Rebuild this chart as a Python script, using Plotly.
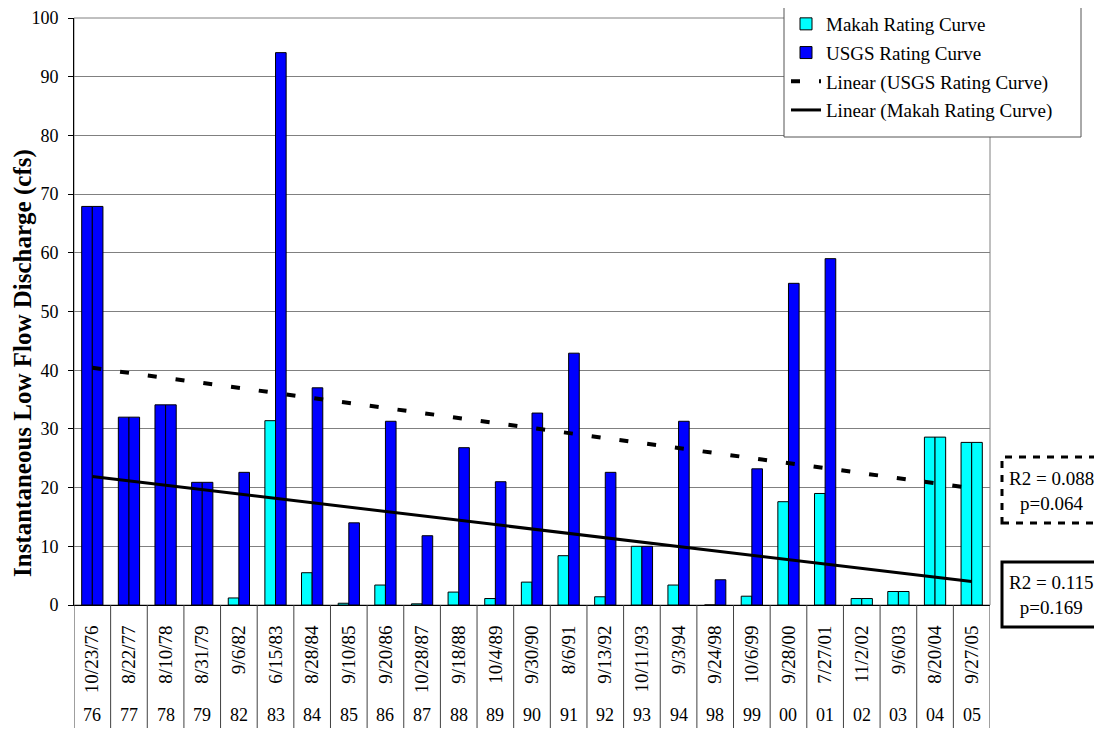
import plotly.graph_objects as go

dates = ["10/23/76", "8/22/77", "8/10/78", "8/31/79", "9/6/82", "6/15/83", "8/28/84",
         "9/10/85", "9/20/86", "10/28/87", "9/18/88", "10/4/89", "9/30/90", "8/6/91",
         "9/13/92", "10/11/93", "9/3/94", "9/24/98", "10/6/99", "9/28/00", "7/27/01",
         "11/2/02", "9/6/03", "8/20/04", "9/27/05"]
years = ["76", "77", "78", "79", "82", "83", "84", "85", "86", "87", "88", "89", "90",
         "91", "92", "93", "94", "98", "99", "00", "01", "02", "03", "04", "05"]
makah = [67.9, 32.0, 34.1, 20.9, 1.2, 31.4, 5.5, 0.3, 3.4, 0.2, 2.2, 1.1, 3.9, 8.4,
         1.4, 10.0, 3.4, None, 1.5, 17.6, 19.0, 1.1, 2.3, 28.6, 27.7]
usgs = [67.9, 32.0, 34.1, 20.9, 22.6, 94.1, 37.0, 14.0, 31.3, 11.8, 26.8, 21.0, 32.7,
        42.9, 22.6, 10.0, 31.3, 4.3, 23.2, 54.8, 59.0, 1.1, 2.3, 28.6, 27.7]
usgs_only_years = ["76", "77", "78", "79"]
makah_only_years = ["02", "03", "04", "05"]
usgs_trend = [40.4, 19.9]
makah_trend = [21.9, 4.0]
stats_usgs = "R2 = 0.088<br>p=0.064"
stats_makah = "R2 = 0.115<br>p=0.169"

CYAN = "#00FFFF"
BLUE = "#0000FF"
FONT = "Liberation Serif"

# page offset (default body margin) -> figure pixel = reference pixel - OFF
OFF = 8
W, H = 1102 - OFF, 730 - OFF
L, R, T, B = 74 - OFF, 990 - OFF, 18 - OFF, 605 - OFF
pw, ph = R - L, B - T


def px_x(p):
    return (p - OFF - L) / pw


def px_y(p):
    return (B - (p - OFF)) / ph


makah_colors = [BLUE if y in usgs_only_years else CYAN for y in years]
usgs_colors = [CYAN if y in makah_only_years else BLUE for y in years]

fig = go.Figure()
fig.add_trace(go.Bar(x=dates, y=makah, name="Makah Rating Curve", offsetgroup="m",
                     marker=dict(color=makah_colors, line=dict(color="black", width=1)),
                     showlegend=False, legendgroup="a"))
fig.add_trace(go.Bar(x=[dates[17]], y=[0], name="Makah Rating Curve", offsetgroup="m",
                     marker=dict(color=CYAN, line=dict(color="black", width=1)),
                     hoverinfo="skip", legendgroup="a"))
fig.add_trace(go.Bar(x=dates, y=usgs, name="USGS Rating Curve", offsetgroup="u",
                     marker=dict(color=usgs_colors, line=dict(color="black", width=1)),
                     legendgroup="b"))
fig.add_trace(go.Scatter(x=[dates[0], dates[-1]], y=usgs_trend, mode="lines",
                         name="Linear (USGS Rating Curve)", legendgroup="c",
                         line=dict(color="black", width=4, dash="9px,19px")))
fig.add_trace(go.Scatter(x=[dates[0], dates[-1]], y=makah_trend, mode="lines",
                         name="Linear (Makah Rating Curve)", legendgroup="d",
                         line=dict(color="black", width=3)))

shapes = []
# plot area frame (gray)
shapes.append(dict(type="rect", xref="paper", yref="paper", x0=0, x1=1, y0=0, y1=1,
                   line=dict(color="#808080", width=1), layer="below"))
# category separators below the axis
for k in range(len(dates) + 1):
    shapes.append(dict(type="line", xref="x", yref="paper", x0=k - 0.5, x1=k - 0.5,
                       y0=0, y1=px_y(728), line=dict(color="#404040", width=1)))
# legend box
shapes.append(dict(type="rect", xref="paper", yref="paper", x0=px_x(784), x1=px_x(1081),
                   y0=px_y(137), y1=px_y(7), line=dict(color="#555555", width=1),
                   fillcolor="white"))
# stats boxes
shapes.append(dict(type="rect", xref="paper", yref="paper", x0=px_x(1002), x1=px_x(1100),
                   y0=px_y(523), y1=px_y(457), line=dict(color="black", width=3, dash="7px,7px"),
                   fillcolor="white"))
shapes.append(dict(type="rect", xref="paper", yref="paper", x0=px_x(1002), x1=px_x(1100),
                   y0=px_y(627), y1=px_y(562), line=dict(color="black", width=3),
                   fillcolor="white"))

annotations = []
for d, yr in zip(dates, years):
    annotations.append(dict(x=d, y=px_y(715), xref="x", yref="paper", text=yr,
                            showarrow=False, font=dict(family=FONT, size=18, color="black"),
                            xanchor="center", yanchor="middle"))
annotations.append(dict(x=px_x(1051), y=px_y(491), xref="paper", yref="paper", text=stats_usgs,
                        showarrow=False, font=dict(family=FONT, size=19, color="black"),
                        xanchor="center", yanchor="middle"))
annotations.append(dict(x=px_x(1051), y=px_y(595), xref="paper", yref="paper", text=stats_makah,
                        showarrow=False, font=dict(family=FONT, size=19, color="black"),
                        xanchor="center", yanchor="middle"))
annotations.append(dict(x=px_x(23), y=px_y(363), xref="paper", yref="paper",
                        text="<b>Instantaneous Low Flow Discharge (cfs)</b>", textangle=-90,
                        showarrow=False, font=dict(family=FONT, size=25, color="black"),
                        xanchor="center", yanchor="middle"))

fig.update_layout(
    width=W, height=H,
    margin=dict(l=L, r=W - R, t=T, b=H - B, autoexpand=False),
    paper_bgcolor="white", plot_bgcolor="white",
    barmode="group", bargap=0.42, bargroupgap=0,
    font=dict(family=FONT, size=18, color="black"),
    shapes=shapes, annotations=annotations,
    legend=dict(x=px_x(786), y=px_y(5), xanchor="left", yanchor="top",
                bgcolor="rgba(0,0,0,0)", borderwidth=0,
                font=dict(family=FONT, size=19, color="black"),
                traceorder="grouped", tracegroupgap=1),
    xaxis=dict(type="category", range=[-0.5, len(dates) - 0.5], showline=True,
               linecolor="black", linewidth=1, ticks="", tickangle=-90,
               showgrid=False, ticklabelstandoff=12,
               tickfont=dict(family=FONT, size=19, color="black")),
    yaxis=dict(range=[0, 100], dtick=10, showline=True, linecolor="black", linewidth=1,
               ticks="outside", ticklen=5, tickcolor="black", showgrid=True,
               gridcolor="#808080", gridwidth=1, zeroline=False, ticklabelstandoff=6,
               tickfont=dict(family=FONT, size=18, color="black")),
)

fig.write_html("out.html")
